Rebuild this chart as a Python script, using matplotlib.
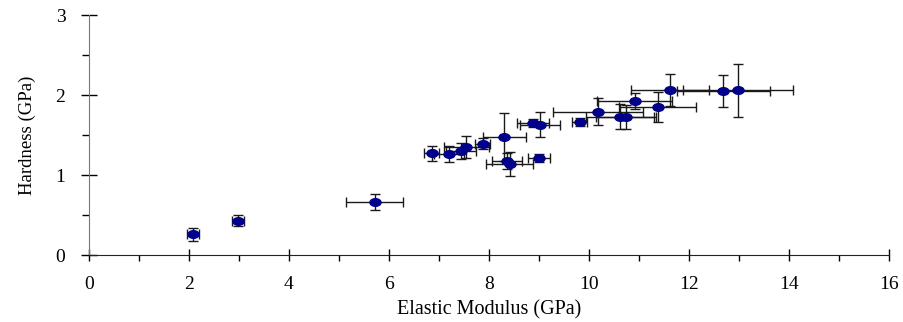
import numpy as np
import matplotlib
matplotlib.use("Agg")
from matplotlib import pyplot as plt
from matplotlib.path import Path

# elastic modulus vs hardness (GPa), with error bars
modulus = [2.08, 2.98, 5.72, 6.86, 7.20, 7.45, 7.55, 7.88, 8.31, 8.37, 8.42, 9.00,
           8.89, 9.02, 9.82, 10.19, 10.63, 10.75, 10.92, 11.38, 11.63, 12.69, 12.98]
hardness = [0.26, 0.43, 0.66, 1.27, 1.26, 1.30, 1.35, 1.39, 1.47, 1.17, 1.14, 1.21,
            1.65, 1.63, 1.66, 1.79, 1.73, 1.73, 1.92, 1.85, 2.06, 2.05, 2.06]
modulus_err = [0.12, 0.12, 0.57, 0.15, 0.30, 0.30, 0.45, 0.15, 0.43, 0.30, 0.47, 0.22,
               0.32, 0.40, 0.15, 0.90, 0.68, 0.60, 0.75, 0.77, 0.78, 0.93, 1.10]
hardness_err = [0.08, 0.07, 0.10, 0.09, 0.10, 0.10, 0.14, 0.07, 0.30, 0.10, 0.15, 0.05,
                0.05, 0.16, 0.05, 0.17, 0.16, 0.15, 0.10, 0.19, 0.20, 0.20, 0.33]

plt.rcParams['font.family'] = ['Liberation Serif', 'DejaVu Serif']

# slightly flattened marker, like the original
circ = Path.unit_circle()
ellipse = Path(circ.vertices * np.array([1.45, 1.0]), circ.codes)

fig = plt.figure(figsize=(9.04, 3.22), dpi=100)
ax = fig.add_axes([0.0985, 0.208, 0.8845, 0.745])

ax.errorbar(modulus, hardness, xerr=modulus_err, yerr=hardness_err, fmt='none',
            ecolor='#1a1a1a', elinewidth=1.0, capsize=3.5, capthick=1.0, zorder=2)
ax.plot(modulus, hardness, linestyle='none', marker=ellipse, markersize=8,
        color='#00008b', zorder=3)

ax.set_xlim(0, 16)
ax.set_ylim(0, 3)
ax.set_xticks(range(0, 17, 2))
ax.set_xticks(range(1, 16, 2), minor=True)
ax.set_yticks([0, 1, 2, 3])
ax.set_yticks([0.5, 1.5, 2.5], minor=True)

ax.spines['top'].set_visible(False)
ax.spines['right'].set_visible(False)
ax.spines['left'].set_color('#777777')
ax.spines['bottom'].set_color('#222222')

ax.tick_params(axis='x', which='major', direction='inout', length=8, width=1,
               labelsize=14, pad=11)
ax.tick_params(axis='x', which='minor', direction='out', length=4, width=1)
ax.tick_params(axis='y', which='major', direction='inout', length=12, width=1,
               labelsize=14, pad=11)
ax.tick_params(axis='y', which='minor', direction='out', length=5, width=1)

ax.set_xlabel('Elastic Modulus (GPa)', fontsize=14.5, labelpad=5)
ax.set_ylabel('Hardness (GPa)', fontsize=13.5, labelpad=14)

fig.savefig('out.png', dpi=100)
